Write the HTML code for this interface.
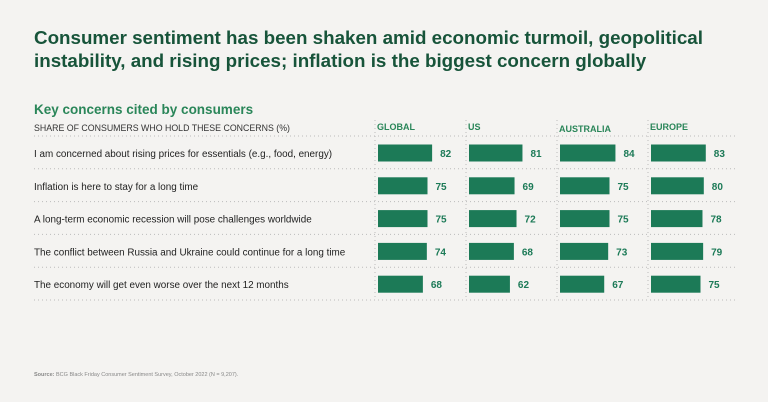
<!DOCTYPE html>
<html><head><meta charset="utf-8"><style>
body{margin:0;background:#f4f3f1;}
svg{display:block;font-family:"Liberation Sans",sans-serif;}
</style></head><body>
<svg id="c" width="768" height="402" viewBox="0 0 768 402">
<rect width="768" height="402" fill="#f4f3f1"/>
<text x="34" y="44" font-size="18.8" font-weight="bold" fill="#17543a">Consumer sentiment has been shaken amid economic turmoil, geopolitical</text>
<text x="34" y="67" font-size="18.8" font-weight="bold" fill="#17543a">instability, and rising prices; inflation is the biggest concern globally</text>
<text x="34" y="114" font-size="13.5" font-weight="bold" fill="#2a8659">Key concerns cited by consumers</text>
<text x="34" y="131" font-size="8.8" fill="#333">SHARE OF CONSUMERS WHO HOLD THESE CONCERNS (%)</text>
<g id="g"></g>
<text x="34" y="376" font-size="5.5" fill="#888"><tspan font-weight="bold">Source:</tspan> BCG Black Friday Consumer Sentiment Survey, October 2022 (N = 9,207).</text>
</svg>
<script>
const regions=["GLOBAL","US","AUSTRALIA","EUROPE"];
const concerns=["I am concerned about rising prices for essentials (e.g., food, energy)","Inflation is here to stay for a long time","A long-term economic recession will pose challenges worldwide","The conflict between Russia and Ukraine could continue for a long time","The economy will get even worse over the next 12 months"];
const globalVals=[82,75,75,74,68];
const usVals=[81,69,72,68,62];
const australiaVals=[84,75,75,73,67];
const europeVals=[83,80,78,79,75];
const series=[globalVals,usVals,australiaVals,europeVals];
const NS="http://www.w3.org/2000/svg",g=document.getElementById('g');
function mk(t,a){const e=document.createElementNS(NS,t);for(const k in a)e.setAttribute(k,a[k]);g.appendChild(e);return e;}
const colX=i=>377+i*91;
const rowY=i=>153+i*32.8;
const len=v=>v*0.66;
for(let k=0;k<=concerns.length;k++){const y=rowY(k)-17;
const l=mk('line',{x1:34,x2:738,y1:y,y2:y,stroke:'#bbb','stroke-width':1,'stroke-dasharray':'1 3'});

}
regions.forEach((r,i)=>{
const l=mk('line',{x1:colX(i)-2,x2:colX(i)-2,y1:120,y2:300,stroke:'#bbb','stroke-width':1,'stroke-dasharray':'1 3'});


const t=mk('text',{x:colX(i),y:i==2?132:130,'font-size':9,'font-weight':'bold',fill:'#2a8659'});t.textContent=r;


});
concerns.forEach((c,j)=>{
const t=mk('text',{x:34,y:rowY(j)+4,'font-size':9.9,fill:'#222'});t.textContent=c;


series.forEach((s,i)=>{
const b=mk('rect',{x:colX(i)+1,y:rowY(j)-8.5,width:len(s[j]),height:17,fill:'#1c7a57'});


const v=mk('text',{x:colX(i)+1+len(s[j])+8,y:rowY(j)+4,'font-size':10,'font-weight':'bold',fill:'#1c7a57'});v.textContent=s[j];


});
});
</script>
</body></html>
